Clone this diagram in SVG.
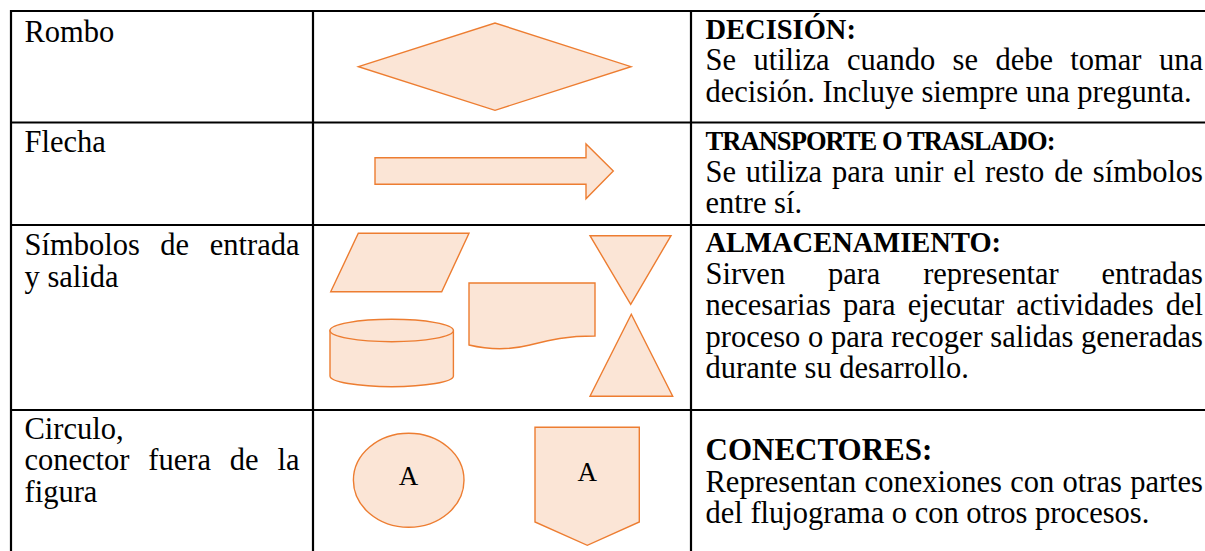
<svg xmlns="http://www.w3.org/2000/svg" width="1205" height="551" viewBox="0 0 1205 551">
<style>
.grid{stroke:#000;stroke-width:2.2;fill:none}
.shape{fill:#FBE5D6;stroke:#ED7D31;stroke-width:1.4;stroke-linejoin:miter}
.t{font-family:"Liberation Serif","Times New Roman",serif;font-size:30.5px;fill:#000}
.h{font-family:"Liberation Serif","Times New Roman",serif;font-size:28.5px;font-weight:bold;fill:#000}
.hs{font-family:"Liberation Serif","Times New Roman",serif;font-size:26.5px;font-weight:bold;fill:#000}
.h2{font-family:"Liberation Serif","Times New Roman",serif;font-size:31px;font-weight:bold;fill:#000}
.a{font-family:"Liberation Serif","Times New Roman",serif;font-size:27px;fill:#000;text-anchor:middle}
</style>
<rect width="1205" height="551" fill="#fff"/>
<g id="table" class="grid">
<line x1="10" y1="11" x2="1205" y2="11"/>
<line x1="10" y1="122.5" x2="1205" y2="122.5"/>
<line x1="10" y1="225" x2="1205" y2="225"/>
<line x1="10" y1="410" x2="1205" y2="410"/>
<line x1="11" y1="10" x2="11" y2="551"/>
<line x1="313" y1="10" x2="313" y2="551"/>
<line x1="691" y1="10" x2="691" y2="551"/>
</g>
<g id="col1-labels">
<text class="t" x="24.5" y="41.5">Rombo</text>
<text class="t" x="24.5" y="152">Flecha</text>
<text class="t" y="255"><tspan x="24.5">Símbolos</tspan><tspan x="160.36">de</tspan><tspan x="209.75">entrada</tspan></text>
<text class="t" x="24.5" y="286.5">y salida</text>
<text class="t" x="24.5" y="438.5">Circulo,</text>
<text class="t" y="470"><tspan x="24.5">conector</tspan><tspan x="148.35">fuera</tspan><tspan x="229.84">de</tspan><tspan x="277.47">la</tspan></text>
<text class="t" x="24.5" y="501.5">figura</text>
</g>
<g id="node-rombo">
<polygon class="shape" points="358.5,66.7 495,23 631,66.7 495,110.3"/>
</g>
<g id="node-flecha">
<polygon class="shape" points="375,157.7 586,157.7 586,144 613.3,171 586,198.7 586,184.3 375,184.3"/>
</g>
<g id="node-paralelogramo">
<polygon class="shape" points="358.3,233.3 469,233.3 441.7,291.7 330.7,291.7"/>
</g>
<g id="node-cilindro">
<path class="shape" d="M330,330.5 V376 A61.7,10.7 0 0 0 453.4,376 V330.5 Z"/>
<ellipse class="shape" cx="391.7" cy="330.5" rx="61.7" ry="11.2"/>
</g>
<g id="node-documento">
<path class="shape" d="M469,283 H595 V336 C565,336 550,340 530,345 C510,350 490,350 469,345 Z"/>
</g>
<g id="node-triangulo-invertido">
<polygon class="shape" points="590,235.7 671,235.7 630.7,304.3"/>
</g>
<g id="node-triangulo">
<polygon class="shape" points="631.3,314.3 672.7,396.3 590,396.3"/>
</g>
<g id="node-circulo">
<ellipse class="shape" cx="408.7" cy="480.3" rx="55.3" ry="47"/>
<text class="a" x="408.5" y="484.5">A</text>
</g>
<g id="node-conector-pagina">
<polygon class="shape" points="535,427.3 639.3,427.3 639.3,522 587.3,545.3 535,522"/>
<text class="a" x="587.3" y="481">A</text>
</g>
<g id="col3-text">
<text class="h" x="705.5" y="39">DECISIÓN:</text>
<text class="t" y="70"><tspan x="705.5">Se</tspan><tspan x="753.41">utiliza</tspan><tspan x="847.07">cuando</tspan><tspan x="952.56">se</tspan><tspan x="995.38">debe</tspan><tspan x="1070.37">tomar</tspan><tspan x="1158.94">una</tspan></text>
<text class="t" x="705.5" y="101.5">decisión. Incluye siempre una pregunta.</text>
<text class="hs" x="705.5" y="150" textLength="350" lengthAdjust="spacing">TRANSPORTE O TRASLADO:</text>
<text class="t" y="181.5"><tspan x="705.5">Se</tspan><tspan x="745.84">utiliza</tspan><tspan x="831.92">para</tspan><tspan x="894.25">unir</tspan><tspan x="953.22">el</tspan><tspan x="985.08">resto</tspan><tspan x="1054.2">de</tspan><tspan x="1092.83">símbolos</tspan></text>
<text class="t" x="705.5" y="213">entre sí.</text>
<text class="h" x="705.5" y="252">ALMACENAMIENTO:</text>
<text class="t" y="283.5"><tspan x="705.5">Sirven</tspan><tspan x="827.9">para</tspan><tspan x="923.15">representar</tspan><tspan x="1101.39">entradas</tspan></text>
<text class="t" y="315"><tspan x="705.5">necesarias</tspan><tspan x="842.99">para</tspan><tspan x="907.64">ejecutar</tspan><tspan x="1016.34">actividades</tspan><tspan x="1165.72">del</tspan></text>
<text class="t" y="346.5"><tspan x="705.5">proceso</tspan><tspan x="808.06">o</tspan><tspan x="831.01">para</tspan><tspan x="891.2">recoger</tspan><tspan x="990.34">salidas</tspan><tspan x="1081.06">generadas</tspan></text>
<text class="t" x="705.5" y="378">durante su desarrollo.</text>
<text class="h2" x="705.5" y="460">CONECTORES:</text>
<text class="t" y="491.5"><tspan x="705.5">Representan</tspan><tspan x="864.6">conexiones</tspan><tspan x="1010.16">con</tspan><tspan x="1062.54">otras</tspan><tspan x="1130.17">partes</tspan></text>
<text class="t" x="705.5" y="523">del flujograma o con otros procesos.</text>
</g>
</svg>
